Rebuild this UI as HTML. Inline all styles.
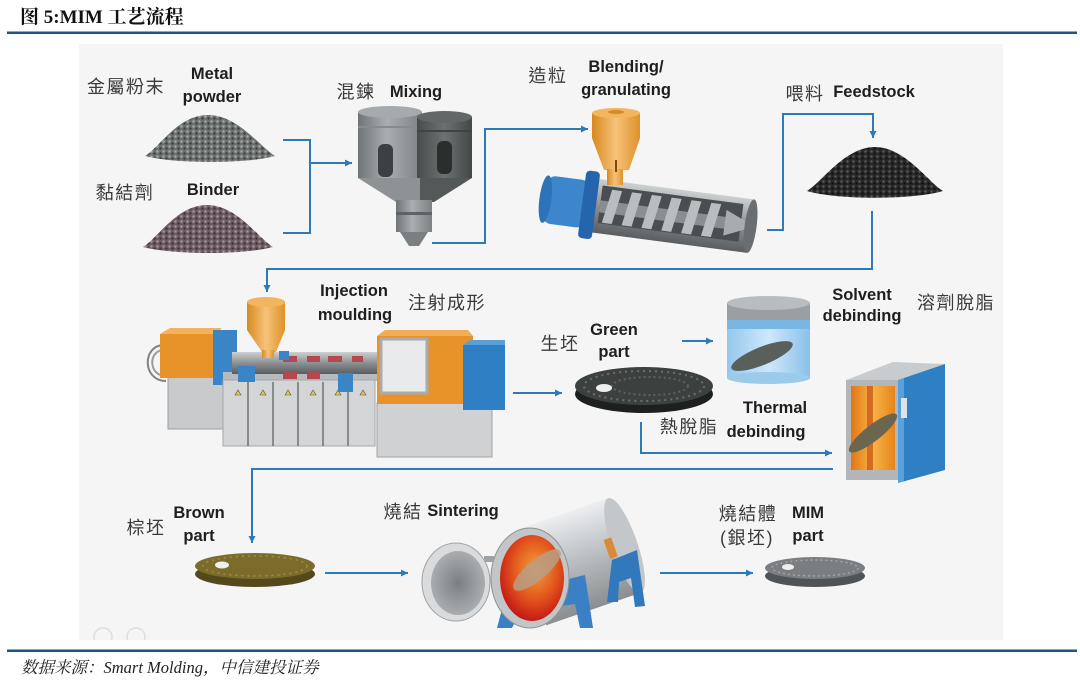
<!DOCTYPE html>
<html><head><meta charset="utf-8">
<style>
html,body{margin:0;padding:0;background:#fff;}
body{width:1080px;height:680px;overflow:hidden;}
svg{display:block;}
.en{font-family:"Liberation Sans",Arial,sans-serif;font-weight:bold;font-size:16.5px;fill:#1e1e1e;}
.cn{font-family:"Liberation Sans","Noto Sans CJK TC","Noto Sans CJK SC",sans-serif;font-size:18px;fill:#3a3a3a;letter-spacing:1.5px;}
</style></head><body>
<svg width="1080" height="680" viewBox="0 0 1080 680" xmlns="http://www.w3.org/2000/svg">
<defs>
  <marker id="ar" markerUnits="userSpaceOnUse" markerWidth="8" markerHeight="8" refX="7" refY="3.5" orient="auto">
    <path d="M0,0 L7,3.5 L0,7 Z" fill="#2c7bb6"/>
  </marker>
  <pattern id="pG" width="6" height="5" patternUnits="userSpaceOnUse">
    <rect width="6" height="5" fill="#6c706e"/><circle cx="1.5" cy="1.5" r="1.2" fill="#a6aaa8"/><circle cx="4.5" cy="3.5" r="1.1" fill="#363938"/>
  </pattern>
  <pattern id="pB" width="6" height="5" patternUnits="userSpaceOnUse">
    <rect width="6" height="5" fill="#6b5c63"/><circle cx="1.5" cy="1.5" r="1.2" fill="#a8969f"/><circle cx="4.5" cy="3.5" r="1.1" fill="#3a2e33"/>
  </pattern>
  <pattern id="pF" width="6" height="5" patternUnits="userSpaceOnUse">
    <rect width="6" height="5" fill="#282828"/><circle cx="1.5" cy="1.5" r="1.2" fill="#5a5a5a"/><circle cx="4.5" cy="3.5" r="1.1" fill="#0e0e0e"/>
  </pattern>
  <linearGradient id="gL" x1="0" x2="1"><stop offset="0" stop-color="#6f7477"/><stop offset=".45" stop-color="#aaaeb0"/><stop offset="1" stop-color="#7c8183"/></linearGradient>
  <linearGradient id="gD" x1="0" x2="1"><stop offset="0" stop-color="#474d4c"/><stop offset=".5" stop-color="#6c7271"/><stop offset="1" stop-color="#424847"/></linearGradient>
  <linearGradient id="orng" x1="0" x2="1"><stop offset="0" stop-color="#d8891f"/><stop offset=".5" stop-color="#f6c27a"/><stop offset="1" stop-color="#df9228"/></linearGradient>
  <linearGradient id="barrel" x1="0" y1="0" x2="0" y2="1"><stop offset="0" stop-color="#cdd0d1"/><stop offset=".5" stop-color="#8c9092"/><stop offset="1" stop-color="#5a5e60"/></linearGradient>
  <linearGradient id="silver" x1="0" y1="0" x2="0" y2="1"><stop offset="0" stop-color="#eceef0"/><stop offset=".5" stop-color="#b9bdc0"/><stop offset="1" stop-color="#8a8e91"/></linearGradient>
  <radialGradient id="fire" cx=".55" cy=".4" r=".6"><stop offset="0" stop-color="#f4a23a"/><stop offset=".6" stop-color="#e2521c"/><stop offset="1" stop-color="#c41a14"/></radialGradient>
  <radialGradient id="doorg" cx=".5" cy=".5" r=".6"><stop offset="0" stop-color="#7b7f82"/><stop offset="1" stop-color="#b3b6b9"/></radialGradient>
  <linearGradient id="oveni" x1="0" x2="1"><stop offset="0" stop-color="#e17616"/><stop offset=".5" stop-color="#f6b445"/><stop offset="1" stop-color="#e6841c"/></linearGradient>
  <linearGradient id="jarg" x1="0" x2="1"><stop offset="0" stop-color="#95c7ec"/><stop offset=".5" stop-color="#cde8fb"/><stop offset="1" stop-color="#8bc0e8"/></linearGradient>
</defs>

<!-- Header -->
<rect width="1080" height="680" fill="#fff"/>
<text x="20" y="23" font-family="'Liberation Serif','Noto Serif CJK SC',serif" font-weight="bold" font-size="19" fill="#111">图 5:MIM 工艺流程</text>
<rect x="7" y="31.5" width="1070" height="2.5" fill="#1f5582"/>

<!-- Image area -->
<rect x="79" y="44" width="924" height="596" fill="#f5f5f5"/>
<circle cx="103" cy="637" r="9" fill="none" stroke="#dedede" stroke-width="1.5"/>
<circle cx="136" cy="637" r="9" fill="none" stroke="#dedede" stroke-width="1.5"/>
<rect x="79" y="640" width="924" height="8" fill="#fff"/>

<!-- Piles -->
<path d="M145,156 C160,147 178,115 208,115 C238,115 260,147 275,156 C245,164 175,164 145,156 Z" fill="url(#pG)"/>
<path d="M143,247 C158,238 177,205 207,205 C237,205 258,238 273,247 C243,255 173,255 143,247 Z" fill="url(#pB)"/>
<path d="M807,191 C822,182 845,147 875,147 C905,147 928,182 943,191 C913,200 837,200 807,191 Z" fill="url(#pF)"/>

<!-- Mixer -->
<rect x="358" y="112" width="64" height="66" fill="url(#gL)"/>
<ellipse cx="390" cy="112" rx="32" ry="6" fill="#a6aaac"/>
<rect x="358" y="126" width="64" height="2" fill="#878b8e"/>
<polygon points="358,178 422,178 422,202 396,202" fill="#8e9295"/>
<rect x="417" y="117" width="55" height="61" fill="url(#gD)"/>
<ellipse cx="444.5" cy="117" rx="27.5" ry="6" fill="#626867"/>
<rect x="417" y="130" width="55" height="2" fill="#3e4443"/>
<polygon points="420,178 472,178 434,202 420,202" fill="#535958"/>
<rect x="396" y="200" width="36" height="32" fill="url(#gL)"/>
<rect x="396" y="212" width="36" height="3" fill="#5d6264"/>
<polygon points="400,232 428,232 419,246 409,246" fill="#7a7f81"/>
<rect x="378" y="144" width="15" height="33" rx="6" fill="#3b4042"/>
<rect x="437" y="141" width="15" height="33" rx="6" fill="#2a2f2e"/>

<!-- Extruder -->
<g transform="translate(590,205) rotate(7.5)">
  <rect x="0" y="-27" width="162" height="54" fill="url(#barrel)"/>
  <rect x="10" y="-21" width="142" height="38" fill="#4a4e50"/>
  <rect x="10" y="-6" width="128" height="12" fill="#8a8e90"/>
  <path d="M20,-18 l10,0 l-6,34 l-10,0 z M40,-18 l10,0 l-6,34 l-10,0 z M60,-18 l10,0 l-6,34 l-10,0 z M80,-18 l10,0 l-6,34 l-10,0 z M100,-18 l10,0 l-6,34 l-10,0 z M120,-18 l10,0 l-6,34 l-10,0 z" fill="#b9bdbf"/>
  <polygon points="136,-13 166,0 136,13" fill="#a8acae"/>
  <ellipse cx="162" cy="0" rx="6" ry="27" fill="#6a6e70"/>
  <rect x="-45" y="-24" width="42" height="48" rx="8" fill="#3d86cc"/>
  <ellipse cx="-45" cy="0" rx="6" ry="24" fill="#2d73b9"/>
  <rect x="-8" y="-34" width="14" height="68" rx="4" fill="#2565ab"/>
</g>
<path d="M592,113 L640,113 L640,138 L629,170 L604,170 L592,138 Z" fill="url(#orng)"/>
<ellipse cx="616" cy="113" rx="24" ry="5" fill="#f2b65e"/>
<ellipse cx="616" cy="112" rx="8" ry="2" fill="#d48a28"/>
<rect x="607" y="169" width="16" height="16" fill="url(#orng)"/>
<rect x="615" y="160" width="2" height="12" fill="#7a4a10"/>

<!-- Injection machine -->
<path d="M164,345 C142,345 142,381 166,381" stroke="#7f8285" stroke-width="2" fill="none"/>
<path d="M164,350 C148,350 148,376 166,376" stroke="#9a9da0" stroke-width="2" fill="none"/>
<rect x="168" y="377" width="55" height="52" fill="#c8cacc" stroke="#9da0a3"/>
<polygon points="160,334 170,328 222,328 216,334" fill="#f2b25e"/>
<rect x="160" y="334" width="56" height="44" fill="#e8922a"/>
<rect x="213" y="330" width="24" height="55" fill="#3a85c6"/>
<rect x="223" y="372" width="156" height="9" fill="#b7babd"/>
<rect x="223" y="380" width="152" height="66" fill="#d3d5d7" stroke="#a5a8ab"/>
<path d="M248,382 V446 M273,382 V446 M298,382 V446 M323,382 V446 M348,382 V446" stroke="#6f7275" stroke-width="1.5"/>
<g fill="#e6c34a" stroke="#555" stroke-width=".6">
  <polygon points="235,395 238,390 241,395"/><polygon points="260,395 263,390 266,395"/><polygon points="285,395 288,390 291,395"/><polygon points="310,395 313,390 316,395"/><polygon points="335,395 338,390 341,395"/><polygon points="360,395 363,390 366,395"/>
</g>
<rect x="232" y="352" width="150" height="22" fill="url(#barrel)"/>
<g fill="#b5474e">
  <rect x="283" y="356" width="14" height="6"/><rect x="307" y="356" width="13" height="6"/><rect x="328" y="356" width="14" height="6"/><rect x="352" y="356" width="11" height="6"/>
  <rect x="283" y="372" width="14" height="7"/><rect x="307" y="372" width="13" height="7"/>
</g>
<rect x="238" y="366" width="17" height="16" fill="#3a85c6"/>
<rect x="338" y="373" width="15" height="19" fill="#3a85c6"/>
<rect x="279" y="351" width="10" height="9" fill="#3a85c6"/>
<rect x="377" y="403" width="115" height="54" fill="#cfd1d3" stroke="#a0a3a6"/>
<polygon points="377,336 385,330 468,330 473,336" fill="#f0ad55"/>
<rect x="377" y="336" width="96" height="68" fill="#e8922a"/>
<rect x="381" y="339" width="46" height="54" fill="#e8eaec" stroke="#a9acaf" stroke-width="3"/>
<polygon points="463,345 470,340 505,340 505,345" fill="#5b9fd6"/>
<rect x="463" y="345" width="42" height="65" fill="#2f7fc4"/>
<path d="M247,302 L285,302 L285,330 L276,352 L262,352 L247,330 Z" fill="url(#orng)"/>
<ellipse cx="266" cy="302" rx="19" ry="5" fill="#f2b65e"/>
<rect x="262" y="350" width="12" height="8" fill="url(#orng)"/>

<!-- Green part -->
<ellipse cx="644" cy="394" rx="69" ry="19" fill="#1d201f"/>
<ellipse cx="644" cy="386" rx="69" ry="19" fill="#3c413f"/>
<ellipse cx="644" cy="386" rx="60" ry="15" fill="none" stroke="#6a706d" stroke-width="2" stroke-dasharray="2 4"/>
<ellipse cx="650" cy="386" rx="38" ry="9" fill="none" stroke="#5c625f" stroke-width="2" stroke-dasharray="2 3"/>
<ellipse cx="604" cy="388" rx="8" ry="4" fill="#eeeeee"/>

<!-- Solvent jar -->
<rect x="727" y="318" width="83" height="60" fill="url(#jarg)"/>
<ellipse cx="768.5" cy="378" rx="41.5" ry="6" fill="#9ccaea"/>
<rect x="727" y="318" width="83" height="11" fill="#78b7e4"/>
<rect x="727" y="303" width="83" height="17" fill="#9a9fa3"/>
<ellipse cx="768.5" cy="303" rx="41.5" ry="7" fill="#b9bdc0"/>
<ellipse cx="762" cy="356" rx="33" ry="9" transform="rotate(-22 762 356)" fill="#59605c"/>

<!-- Oven -->
<polygon points="846,380 898,380 945,364 893,362" fill="#c9ccce"/>
<rect x="846" y="380" width="52" height="100" fill="#b3b6b9"/>
<rect x="851" y="386" width="44" height="84" fill="url(#oveni)"/>
<rect x="867" y="386" width="6" height="84" fill="#c84e16" opacity=".7"/>
<ellipse cx="873" cy="433" rx="30" ry="8" transform="rotate(-38 873 433)" fill="#6a6650"/>
<polygon points="898,380 945,364 945,470 898,483" fill="#2f7fc4"/>
<polygon points="898,380 904,378 904,481 898,483" fill="#5aa1dc"/>
<rect x="901" y="398" width="6" height="20" fill="#dfe3e6"/>

<!-- Brown part -->
<ellipse cx="255" cy="574" rx="60" ry="13" fill="#54491c"/>
<ellipse cx="255" cy="566" rx="60" ry="13" fill="#7c6c2c"/>
<ellipse cx="255" cy="566" rx="52" ry="10" fill="none" stroke="#a08e48" stroke-width="1.5" stroke-dasharray="2 4"/>
<ellipse cx="222" cy="565" rx="7" ry="3.5" fill="#eeeeee"/>

<!-- Sintering furnace -->
<g transform="translate(530,578) rotate(-19)">
  <rect x="0" y="-50" width="100" height="100" fill="url(#silver)"/>
  <ellipse cx="100" cy="0" rx="13" ry="50" fill="#c4c7ca"/>
  <rect x="82" y="-12" width="8" height="20" fill="#d9893a"/>
</g>
<path d="M607,602 L612,560 L637,550 L645,606 L635,607 L631,578 L619,582 L618,602 Z" fill="#3278bd"/>
<path d="M497,628 L506,594 L585,575 L593,628 L580,628 L575,604 L520,612 L512,628 Z" fill="#3b7fc4"/>
<ellipse cx="530" cy="578" rx="39" ry="50" fill="#c3c6c9" stroke="#8e9295"/>
<ellipse cx="532" cy="578" rx="32" ry="43" fill="url(#fire)"/>
<ellipse cx="537" cy="570" rx="30" ry="10" transform="rotate(-40 537 570)" fill="#b89e84" opacity=".85"/>
<rect x="484" y="556" width="10" height="6" fill="#9ea2a5"/>
<ellipse cx="456" cy="582" rx="34" ry="39" fill="#d9dbdd" stroke="#9ea2a5"/>
<ellipse cx="458" cy="583" rx="27" ry="32" fill="url(#doorg)"/>

<!-- MIM part -->
<ellipse cx="815" cy="576" rx="50" ry="11" fill="#505457"/>
<ellipse cx="815" cy="568" rx="50" ry="11" fill="#7a7e81"/>
<ellipse cx="815" cy="568" rx="43" ry="8" fill="none" stroke="#a3a7aa" stroke-width="1.5" stroke-dasharray="2 3"/>
<ellipse cx="788" cy="567" rx="6" ry="3" fill="#eeeeee"/>

<!-- Connectors -->
<g fill="none" stroke="#2c7bb6" stroke-width="2">
  <path d="M283,140 H310 V233 H283"/>
  <path d="M310,163 H352" marker-end="url(#ar)"/>
  <path d="M432,243 H485 V129 H588" marker-end="url(#ar)"/>
  <path d="M767,230 H783 V114 H873 V138" marker-end="url(#ar)"/>
  <path d="M872,211 V269 H267 V292" marker-end="url(#ar)"/>
  <path d="M513,393 H562" marker-end="url(#ar)"/>
  <path d="M682,341 H713" marker-end="url(#ar)"/>
  <path d="M641,422 V453 H832" marker-end="url(#ar)"/>
  <path d="M833,469 H252 V543" marker-end="url(#ar)"/>
  <path d="M325,573 H408" marker-end="url(#ar)"/>
  <path d="M660,573 H753" marker-end="url(#ar)"/>
</g>

<!-- Labels -->
<text class="cn" x="126" y="93" text-anchor="middle">金屬粉末</text>
<text class="en" x="212" y="79" text-anchor="middle">Metal</text>
<text class="en" x="212" y="102" text-anchor="middle">powder</text>
<text class="cn" x="125" y="199" text-anchor="middle">黏結劑</text>
<text class="en" x="213" y="195" text-anchor="middle">Binder</text>
<text class="cn" x="356" y="98" text-anchor="middle">混鍊</text>
<text class="en" x="416" y="97" text-anchor="middle">Mixing</text>
<text class="cn" x="548" y="82" text-anchor="middle">造粒</text>
<text class="en" x="626" y="72" text-anchor="middle">Blending/</text>
<text class="en" x="626" y="95" text-anchor="middle">granulating</text>
<text class="cn" x="805" y="100" text-anchor="middle">喂料</text>
<text class="en" x="874" y="97" text-anchor="middle">Feedstock</text>
<text class="en" x="354" y="296" text-anchor="middle">Injection</text>
<text class="en" x="355" y="320" text-anchor="middle">moulding</text>
<text class="cn" x="447" y="309" text-anchor="middle">注射成形</text>
<text class="en" x="862" y="300" text-anchor="middle">Solvent</text>
<text class="en" x="862" y="321" text-anchor="middle">debinding</text>
<text class="cn" x="956" y="309" text-anchor="middle">溶劑脫脂</text>
<text class="cn" x="560" y="350" text-anchor="middle">生坯</text>
<text class="en" x="614" y="335" text-anchor="middle">Green</text>
<text class="en" x="614" y="357" text-anchor="middle">part</text>
<text class="cn" x="689" y="433" text-anchor="middle">熱脫脂</text>
<text class="en" x="775" y="413" text-anchor="middle">Thermal</text>
<text class="en" x="766" y="437" text-anchor="middle">debinding</text>
<text class="cn" x="146" y="534" text-anchor="middle">棕坯</text>
<text class="en" x="199" y="518" text-anchor="middle">Brown</text>
<text class="en" x="199" y="541" text-anchor="middle">part</text>
<text class="cn" x="403" y="518" text-anchor="middle">燒結</text>
<text class="en" x="463" y="516" text-anchor="middle">Sintering</text>
<text class="cn" x="748" y="520" text-anchor="middle">燒結體</text>
<text class="cn" x="747" y="544" text-anchor="middle">(銀坯)</text>
<text class="en" x="808" y="518" text-anchor="middle">MIM</text>
<text class="en" x="808" y="541" text-anchor="middle">part</text>

<!-- Footer -->
<rect x="7" y="649.5" width="1070" height="2.5" fill="#1f5582"/>
<text x="21" y="673" font-family="'Liberation Serif','Noto Serif CJK SC',serif" font-style="italic" font-size="16.5" fill="#222">数据来源：Smart Molding，中信建投证券</text>
</svg>
</body></html>
